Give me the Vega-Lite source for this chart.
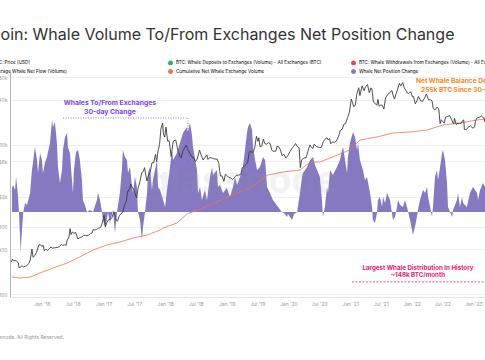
{
  "$schema": "https://vega.github.io/schema/vega-lite/v6.json",
  "width": 490,
  "height": 225,
  "autosize": {"type": "none"},
  "padding": {"left": 10, "top": 72, "right": 0, "bottom": 63},
  "background": "white",
  "config": {"font": "Inter", "view": {"stroke": null}},
  "title": {
    "text": "Bitcoin: Whale Volume To/From Exchanges Net Position Change",
    "anchor": "start", "frame": "group", "dx": -38, "offset": 17,
    "fontSize": 16, "fontWeight": "normal", "color": "#333333", "font": "Inter"
  },
  "datasets": {
    "price": [
      {"date":"2015-07-05","p":270},{"date":"2015-07-12","p":292},{"date":"2015-07-20","p":278},{"date":"2015-08-01","p":281},{"date":"2015-08-15","p":262},{"date":"2015-08-19","p":225},{"date":"2015-08-26","p":225},{"date":"2015-09-05","p":240},{"date":"2015-09-15","p":230},{"date":"2015-09-25","p":235},{"date":"2015-10-05","p":240},{"date":"2015-10-15","p":255},{"date":"2015-10-25","p":285},{"date":"2015-11-04","p":400},{"date":"2015-11-11","p":310},{"date":"2015-11-20","p":325},{"date":"2015-12-01","p":360},{"date":"2015-12-15","p":455},{"date":"2015-12-25","p":455},
      {"date":"2016-01-01","p":432},{"date":"2016-01-10","p":448},{"date":"2016-01-16","p":380},{"date":"2016-01-25","p":395},{"date":"2016-02-05","p":385},{"date":"2016-02-15","p":405},{"date":"2016-02-25","p":425},{"date":"2016-03-05","p":410},{"date":"2016-03-15","p":415},{"date":"2016-03-25","p":417},{"date":"2016-04-05","p":422},{"date":"2016-04-15","p":430},{"date":"2016-04-25","p":460},{"date":"2016-05-05","p":448},{"date":"2016-05-15","p":455},{"date":"2016-05-25","p":450},{"date":"2016-05-31","p":530},{"date":"2016-06-10","p":577},{"date":"2016-06-17","p":750},{"date":"2016-06-23","p":625},{"date":"2016-07-01","p":675},{"date":"2016-07-10","p":648},{"date":"2016-07-20","p":665},{"date":"2016-08-02","p":545},{"date":"2016-08-15","p":570},{"date":"2016-08-25","p":578},{"date":"2016-09-05","p":610},{"date":"2016-09-15","p":608},{"date":"2016-09-25","p":602},{"date":"2016-10-05","p":612},{"date":"2016-10-15","p":640},{"date":"2016-10-25","p":655},{"date":"2016-11-01","p":730},{"date":"2016-11-10","p":715},{"date":"2016-11-20","p":730},{"date":"2016-12-01","p":755},{"date":"2016-12-15","p":780},{"date":"2016-12-25","p":895},
      {"date":"2017-01-04","p":1130},{"date":"2017-01-12","p":790},{"date":"2017-01-20","p":895},{"date":"2017-02-01","p":990},{"date":"2017-02-10","p":995},{"date":"2017-02-20","p":1050},{"date":"2017-03-03","p":1260},{"date":"2017-03-10","p":1120},{"date":"2017-03-18","p":970},{"date":"2017-03-25","p":940},{"date":"2017-04-05","p":1130},{"date":"2017-04-15","p":1180},{"date":"2017-04-25","p":1260},{"date":"2017-05-05","p":1540},{"date":"2017-05-15","p":1720},{"date":"2017-05-25","p":2400},{"date":"2017-06-01","p":2400},{"date":"2017-06-12","p":2950},{"date":"2017-06-20","p":2700},{"date":"2017-07-01","p":2450},{"date":"2017-07-16","p":1930},{"date":"2017-07-25","p":2600},{"date":"2017-08-05","p":3200},{"date":"2017-08-15","p":4200},{"date":"2017-08-25","p":4350},{"date":"2017-09-01","p":4900},{"date":"2017-09-15","p":3250},{"date":"2017-09-25","p":3900},{"date":"2017-10-05","p":4300},{"date":"2017-10-15","p":5700},{"date":"2017-10-25","p":5700},{"date":"2017-11-05","p":7400},{"date":"2017-11-12","p":5900},{"date":"2017-11-20","p":8200},{"date":"2017-11-29","p":10000},{"date":"2017-12-07","p":16000},{"date":"2017-12-17","p":19400},{"date":"2017-12-22","p":13800},{"date":"2017-12-30","p":12600},
      {"date":"2018-01-06","p":17100},{"date":"2018-01-16","p":11100},{"date":"2018-01-25","p":11200},{"date":"2018-02-06","p":6900},{"date":"2018-02-15","p":10000},{"date":"2018-02-20","p":11200},{"date":"2018-03-05","p":11500},{"date":"2018-03-18","p":8200},{"date":"2018-03-30","p":6900},{"date":"2018-04-06","p":6600},{"date":"2018-04-15","p":8000},{"date":"2018-04-25","p":8900},{"date":"2018-05-05","p":9800},{"date":"2018-05-15","p":8600},{"date":"2018-05-29","p":7500},{"date":"2018-06-10","p":6800},{"date":"2018-06-20","p":6700},{"date":"2018-06-29","p":5900},{"date":"2018-07-10","p":6400},{"date":"2018-07-24","p":8400},{"date":"2018-08-05","p":7000},{"date":"2018-08-14","p":6200},{"date":"2018-08-25","p":6700},{"date":"2018-09-05","p":7300},{"date":"2018-09-12","p":6300},{"date":"2018-09-22","p":6700},{"date":"2018-10-05","p":6600},{"date":"2018-10-15","p":6450},{"date":"2018-10-25","p":6400},{"date":"2018-11-05","p":6400},{"date":"2018-11-15","p":5600},{"date":"2018-11-20","p":4500},{"date":"2018-11-25","p":3800},{"date":"2018-12-05","p":3800},{"date":"2018-12-15","p":3200},{"date":"2018-12-24","p":4000},
      {"date":"2019-01-05","p":3800},{"date":"2019-01-15","p":3600},{"date":"2019-01-25","p":3580},{"date":"2019-02-05","p":3400},{"date":"2019-02-15","p":3600},{"date":"2019-02-25","p":3850},{"date":"2019-03-10","p":3900},{"date":"2019-03-25","p":3950},{"date":"2019-04-03","p":4900},{"date":"2019-04-15","p":5100},{"date":"2019-04-25","p":5400},{"date":"2019-05-05","p":5750},{"date":"2019-05-15","p":8000},{"date":"2019-05-25","p":8000},{"date":"2019-06-05","p":7800},{"date":"2019-06-15","p":8800},{"date":"2019-06-26","p":12900},{"date":"2019-07-05","p":11000},{"date":"2019-07-10","p":12300},{"date":"2019-07-17","p":9400},{"date":"2019-07-27","p":9500},{"date":"2019-08-06","p":11800},{"date":"2019-08-15","p":10300},{"date":"2019-08-25","p":10100},{"date":"2019-09-05","p":10600},{"date":"2019-09-15","p":10300},{"date":"2019-09-25","p":8400},{"date":"2019-10-05","p":8100},{"date":"2019-10-20","p":8200},{"date":"2019-10-26","p":9500},{"date":"2019-11-05","p":9300},{"date":"2019-11-15","p":8500},{"date":"2019-11-25","p":7100},{"date":"2019-12-05","p":7400},{"date":"2019-12-17","p":6600},{"date":"2019-12-31","p":7200},
      {"date":"2020-01-10","p":8000},{"date":"2020-01-20","p":8700},{"date":"2020-02-01","p":9400},{"date":"2020-02-13","p":10300},{"date":"2020-02-25","p":9300},{"date":"2020-03-05","p":9100},{"date":"2020-03-12","p":4900},{"date":"2020-03-20","p":6200},{"date":"2020-04-01","p":6600},{"date":"2020-04-15","p":6650},{"date":"2020-04-30","p":8700},{"date":"2020-05-08","p":9900},{"date":"2020-05-15","p":9300},{"date":"2020-05-25","p":8800},{"date":"2020-06-02","p":10100},{"date":"2020-06-15","p":9400},{"date":"2020-06-25","p":9250},{"date":"2020-07-05","p":9100},{"date":"2020-07-15","p":9200},{"date":"2020-07-27","p":11000},{"date":"2020-08-05","p":11750},{"date":"2020-08-17","p":12300},{"date":"2020-08-25","p":11500},{"date":"2020-09-01","p":12000},{"date":"2020-09-08","p":10200},{"date":"2020-09-20","p":10900},{"date":"2020-10-01","p":10600},{"date":"2020-10-15","p":11500},{"date":"2020-10-25","p":13000},{"date":"2020-11-05","p":15600},{"date":"2020-11-15","p":16000},{"date":"2020-11-25","p":18700},{"date":"2020-12-05","p":19100},{"date":"2020-12-17","p":23000},{"date":"2020-12-27","p":26500},
      {"date":"2021-01-08","p":40500},{"date":"2021-01-15","p":36700},{"date":"2021-01-22","p":32000},{"date":"2021-02-01","p":33500},{"date":"2021-02-09","p":46500},{"date":"2021-02-21","p":57500},{"date":"2021-02-28","p":45200},{"date":"2021-03-13","p":61000},{"date":"2021-03-25","p":52500},{"date":"2021-04-01","p":58800},{"date":"2021-04-14","p":63500},{"date":"2021-04-25","p":49100},{"date":"2021-05-03","p":57000},{"date":"2021-05-10","p":56000},{"date":"2021-05-19","p":37000},{"date":"2021-05-28","p":35700},{"date":"2021-06-08","p":33500},{"date":"2021-06-15","p":40200},{"date":"2021-06-22","p":32500},{"date":"2021-07-01","p":33500},{"date":"2021-07-10","p":33800},{"date":"2021-07-20","p":29800},{"date":"2021-07-30","p":42000},{"date":"2021-08-10","p":46000},{"date":"2021-08-22","p":49200},{"date":"2021-09-06","p":52600},{"date":"2021-09-12","p":46000},{"date":"2021-09-21","p":40600},{"date":"2021-10-01","p":48200},{"date":"2021-10-10","p":55000},{"date":"2021-10-20","p":66000},{"date":"2021-10-28","p":61000},{"date":"2021-11-09","p":67500},{"date":"2021-11-18","p":57000},{"date":"2021-11-26","p":53600},{"date":"2021-12-04","p":49200},{"date":"2021-12-14","p":48400},{"date":"2021-12-27","p":50700},
      {"date":"2022-01-05","p":43500},{"date":"2022-01-12","p":43900},{"date":"2022-01-22","p":35000},{"date":"2022-02-01","p":38700},{"date":"2022-02-10","p":44000},{"date":"2022-02-24","p":38300},{"date":"2022-03-07","p":38000},{"date":"2022-03-18","p":41800},{"date":"2022-03-29","p":47400},{"date":"2022-04-11","p":39500},{"date":"2022-04-22","p":39700},{"date":"2022-05-01","p":38500},{"date":"2022-05-09","p":30200},{"date":"2022-05-20","p":29200},{"date":"2022-05-31","p":31800},{"date":"2022-06-10","p":30100},{"date":"2022-06-18","p":19000},{"date":"2022-06-25","p":21500},{"date":"2022-07-05","p":20200},{"date":"2022-07-13","p":19300},{"date":"2022-07-20","p":23200},{"date":"2022-07-30","p":23600},{"date":"2022-08-14","p":24400},{"date":"2022-08-25","p":21600},{"date":"2022-09-06","p":18800},{"date":"2022-09-12","p":22300},{"date":"2022-09-21","p":18500},{"date":"2022-10-01","p":19300},{"date":"2022-10-10","p":19100},{"date":"2022-10-21","p":19200},{"date":"2022-10-29","p":20800},{"date":"2022-11-05","p":21300},{"date":"2022-11-09","p":15900},{"date":"2022-11-21","p":15800},{"date":"2022-12-01","p":17000},{"date":"2022-12-14","p":17800},{"date":"2022-12-30","p":16550},
      {"date":"2023-01-08","p":17100},{"date":"2023-01-14","p":20900},{"date":"2023-01-25","p":23000},{"date":"2023-02-05","p":22900},{"date":"2023-02-16","p":24300},{"date":"2023-02-25","p":23200},{"date":"2023-03-05","p":22400},{"date":"2023-03-10","p":20200},{"date":"2023-03-17","p":27400}
    ],
    "cum": [
      {"date":"2015-07-09","c":0},{"date":"2015-08-25","c":-2000},{"date":"2015-10-24","c":0},{"date":"2015-12-22","c":8000},{"date":"2016-03-08","c":18000},{"date":"2016-05-30","c":28000},{"date":"2016-08-14","c":40000},{"date":"2016-10-31","c":54000},{"date":"2017-01-21","c":64000},{"date":"2017-04-08","c":70000},{"date":"2017-06-25","c":78000},{"date":"2017-09-16","c":84000},{"date":"2017-12-02","c":94000},{"date":"2017-12-20","c":98000},{"date":"2018-03-12","c":108000},{"date":"2018-05-10","c":126000},{"date":"2018-09-24","c":144000},{"date":"2019-01-20","c":162000},{"date":"2019-05-19","c":178000},{"date":"2019-09-02","c":204000},{"date":"2019-11-30","c":210000},{"date":"2020-03-10","c":214000},{"date":"2020-05-09","c":230000},{"date":"2020-07-06","c":230000},{"date":"2020-09-04","c":238000},{"date":"2020-12-31","c":254000},{"date":"2021-02-28","c":274000},{"date":"2021-06-09","c":280000},{"date":"2021-09-12","c":288000},{"date":"2021-12-22","c":290000},{"date":"2022-04-02","c":294000},{"date":"2022-07-05","c":304000},{"date":"2022-10-14","c":308000},{"date":"2023-01-23","c":314000},{"date":"2023-03-11","c":316000}
    ],
    "net": [
      {"date":"2015-07-09","v":50700},{"date":"2015-07-15","v":57100},{"date":"2015-07-27","v":46500},{"date":"2015-08-02","v":74000},{"date":"2015-08-13","v":35900},{"date":"2015-08-19","v":0},{"date":"2015-08-29","v":-84600},{"date":"2015-09-06","v":-38100},{"date":"2015-09-14","v":0},{"date":"2015-09-24","v":19000},{"date":"2015-10-06","v":14800},{"date":"2015-10-24","v":40200},{"date":"2015-11-04","v":88800},{"date":"2015-11-10","v":103600},{"date":"2015-11-22","v":137400},{"date":"2015-12-04","v":109900},{"date":"2015-12-10","v":82400},{"date":"2015-12-22","v":124700},
      {"date":"2016-01-02","v":109900},{"date":"2016-01-08","v":82400},{"date":"2016-01-20","v":103600},{"date":"2016-02-01","v":116300},{"date":"2016-02-19","v":145900},{"date":"2016-03-02","v":194500},{"date":"2016-03-08","v":179700},{"date":"2016-03-19","v":190300},{"date":"2016-03-31","v":145900},{"date":"2016-04-06","v":95100},{"date":"2016-04-18","v":61300},{"date":"2016-04-30","v":88800},{"date":"2016-05-06","v":131100},{"date":"2016-05-18","v":158600},{"date":"2016-05-30","v":167000},{"date":"2016-06-04","v":137400},{"date":"2016-06-16","v":124700},{"date":"2016-06-28","v":67600},{"date":"2016-07-04","v":40200},{"date":"2016-07-10","v":88800},{"date":"2016-07-22","v":126800},{"date":"2016-08-03","v":131100},{"date":"2016-08-14","v":109900},{"date":"2016-08-26","v":67600},{"date":"2016-09-01","v":25400},{"date":"2016-09-13","v":14800},{"date":"2016-09-25","v":0},{"date":"2016-10-13","v":4200},{"date":"2016-10-31","v":0},{"date":"2016-11-23","v":25400},{"date":"2016-11-29","v":40200},{"date":"2016-12-11","v":25400},{"date":"2016-12-23","v":0},{"date":"2016-12-29","v":-16900},
      {"date":"2017-01-10","v":-31700},{"date":"2017-01-21","v":-16900},{"date":"2017-01-27","v":0},{"date":"2017-02-08","v":-23300},{"date":"2017-02-26","v":4200},{"date":"2017-03-10","v":-44400},{"date":"2017-03-22","v":0},{"date":"2017-04-08","v":40200},{"date":"2017-04-20","v":88800},{"date":"2017-04-26","v":131100},{"date":"2017-05-08","v":116300},{"date":"2017-05-20","v":109900},{"date":"2017-05-26","v":82400},{"date":"2017-06-07","v":95100},{"date":"2017-06-19","v":52900},{"date":"2017-06-25","v":40200},{"date":"2017-07-06","v":74000},{"date":"2017-07-18","v":52900},{"date":"2017-07-24","v":0},{"date":"2017-08-05","v":-16900},{"date":"2017-08-17","v":-59200},{"date":"2017-08-23","v":-31700},{"date":"2017-09-04","v":0},{"date":"2017-09-16","v":40200},{"date":"2017-09-22","v":82400},{"date":"2017-10-03","v":95100},{"date":"2017-10-15","v":46500},{"date":"2017-10-21","v":67600},{"date":"2017-11-02","v":88800},{"date":"2017-11-14","v":109900},{"date":"2017-11-20","v":52900},{"date":"2017-12-02","v":46500},{"date":"2017-12-20","v":25400},
      {"date":"2018-01-01","v":10600},{"date":"2018-01-12","v":46500},{"date":"2018-01-30","v":95100},{"date":"2018-02-11","v":131100},{"date":"2018-02-17","v":109900},{"date":"2018-03-12","v":124700},{"date":"2018-03-30","v":145900},{"date":"2018-04-17","v":167000},{"date":"2018-05-10","v":179700},{"date":"2018-05-16","v":169100},{"date":"2018-05-28","v":188100},{"date":"2018-06-09","v":162800},{"date":"2018-06-15","v":137400},{"date":"2018-07-09","v":88800},{"date":"2018-07-15","v":40200},{"date":"2018-07-27","v":52900},{"date":"2018-08-07","v":25400},{"date":"2018-08-25","v":46500},{"date":"2018-09-06","v":25400},{"date":"2018-09-24","v":74000},{"date":"2018-10-06","v":95100},{"date":"2018-10-12","v":78200},{"date":"2018-11-04","v":88800},{"date":"2018-11-10","v":52900},{"date":"2018-11-22","v":57100},{"date":"2018-12-10","v":40200},
      {"date":"2019-01-02","v":50700},{"date":"2019-01-20","v":31700},{"date":"2019-02-07","v":52900},{"date":"2019-02-19","v":74000},{"date":"2019-03-03","v":57100},{"date":"2019-03-21","v":74000},{"date":"2019-04-07","v":95100},{"date":"2019-04-19","v":131100},{"date":"2019-05-01","v":167000},{"date":"2019-05-07","v":179700},{"date":"2019-05-19","v":188100},{"date":"2019-05-31","v":173300},{"date":"2019-06-06","v":137400},{"date":"2019-06-18","v":109900},{"date":"2019-06-30","v":88800},{"date":"2019-07-17","v":95100},{"date":"2019-08-04","v":116300},{"date":"2019-08-16","v":109900},{"date":"2019-08-28","v":52900},{"date":"2019-09-14","v":40200},{"date":"2019-10-02","v":25400},{"date":"2019-11-01","v":10600},{"date":"2019-11-24","v":0},{"date":"2019-12-12","v":-4200},{"date":"2019-12-24","v":-10600},{"date":"2019-12-30","v":-4200},
      {"date":"2020-01-11","v":-10600},{"date":"2020-01-23","v":-16900},{"date":"2020-02-04","v":-4200},{"date":"2020-02-22","v":0},{"date":"2020-03-10","v":40200},{"date":"2020-03-22","v":74000},{"date":"2020-03-28","v":82400},{"date":"2020-04-21","v":95100},{"date":"2020-05-09","v":109900},{"date":"2020-05-26","v":116300},{"date":"2020-06-07","v":99400},{"date":"2020-07-06","v":74000},{"date":"2020-07-18","v":25400},{"date":"2020-07-24","v":-10600},{"date":"2020-08-05","v":10600},{"date":"2020-08-17","v":52900},{"date":"2020-08-23","v":40200},{"date":"2020-09-04","v":88800},{"date":"2020-09-21","v":78200},{"date":"2020-10-15","v":95100},{"date":"2020-11-02","v":109900},{"date":"2020-11-14","v":131100},{"date":"2020-11-20","v":137400},{"date":"2020-12-02","v":109900},{"date":"2020-12-14","v":82400},{"date":"2020-12-19","v":116300},{"date":"2020-12-31","v":145900},
      {"date":"2021-01-18","v":169100},{"date":"2021-01-30","v":158600},{"date":"2021-02-11","v":131100},{"date":"2021-02-17","v":145900},{"date":"2021-02-28","v":109900},{"date":"2021-03-18","v":88800},{"date":"2021-03-30","v":67600},{"date":"2021-04-11","v":74000},{"date":"2021-04-29","v":40200},{"date":"2021-05-11","v":10600},{"date":"2021-05-16","v":-16900},{"date":"2021-05-28","v":-23300},{"date":"2021-06-09","v":-2100},{"date":"2021-06-15","v":25400},{"date":"2021-06-27","v":31700},{"date":"2021-07-09","v":10600},{"date":"2021-07-15","v":31700},{"date":"2021-07-27","v":19000},{"date":"2021-08-08","v":40200},{"date":"2021-08-25","v":25400},{"date":"2021-09-06","v":-2100},{"date":"2021-09-12","v":-16900},{"date":"2021-09-24","v":-10600},{"date":"2021-10-06","v":10600},{"date":"2021-10-12","v":25400},{"date":"2021-10-24","v":14800},{"date":"2021-11-10","v":10600},{"date":"2021-11-22","v":25400},{"date":"2021-12-04","v":10600},{"date":"2021-12-22","v":-16900},
      {"date":"2022-01-03","v":-38100},{"date":"2022-01-08","v":-48600},{"date":"2022-01-20","v":-31700},{"date":"2022-02-01","v":-10600},{"date":"2022-02-07","v":4200},{"date":"2022-02-19","v":25400},{"date":"2022-03-09","v":46500},{"date":"2022-03-21","v":40200},{"date":"2022-04-02","v":52900},{"date":"2022-04-08","v":31700},{"date":"2022-04-20","v":10600},{"date":"2022-05-01","v":-10600},{"date":"2022-05-07","v":10600},{"date":"2022-05-19","v":74000},{"date":"2022-05-31","v":88800},{"date":"2022-06-06","v":67600},{"date":"2022-06-18","v":95100},{"date":"2022-06-30","v":124700},{"date":"2022-07-05","v":131100},{"date":"2022-07-17","v":109900},{"date":"2022-07-29","v":61300},{"date":"2022-08-04","v":10600},{"date":"2022-08-16","v":0},{"date":"2022-08-28","v":-10600},{"date":"2022-09-03","v":4200},{"date":"2022-09-26","v":25400},{"date":"2022-10-02","v":40200},{"date":"2022-10-14","v":10600},{"date":"2022-10-26","v":31700},{"date":"2022-11-01","v":19000},{"date":"2022-11-24","v":10600},{"date":"2022-12-12","v":40200},{"date":"2022-12-30","v":52900},
      {"date":"2023-01-23","v":40200},{"date":"2023-01-29","v":25400},{"date":"2023-02-10","v":46500},{"date":"2023-02-27","v":61300},{"date":"2023-03-11","v":52900},{"date":"2023-03-20","v":50000}
    ],
    "notes": [
      {"date":"2017-02-08","v":230400,"text":"Whales To/From Exchanges","group":"whales"},
      {"date":"2017-02-08","v":211400,"text":"30-day Change","group":"whales"},
      {"date":"2022-01-26","v":276900,"text":"Net Whale Balance Delta","group":"balance"},
      {"date":"2022-02-25","v":257900,"text":"255k BTC Since 30-Day Low","group":"balance"},
      {"date":"2022-02-07","v":-118400,"text":"Largest Whale Distribution In History","group":"distribution"},
      {"date":"2022-02-07","v":-133200,"text":"~148k BTC/month","group":"distribution"},
      {"date":"2019-04-01","v":63400,"text":"glassnode","group":"watermark"}
    ],
    "guides": [
      {"date":"2016-05-06","date2":"2018-05-16","v":198700,"v2":198700,"group":"whales"},
      {"date":"2018-05-16","date2":"2018-05-16","v":198700,"v2":99400,"group":"whales"},
      {"date":"2021-01-12","date2":"2023-06-08","v":-148000,"v2":-148000,"group":"distribution"}
    ]
  },
  "encoding": {
    "x": {
      "field": "date", "type": "temporal",
      "scale": {"type": "utc", "domain": [{"year":2015,"month":6,"date":27,"utc":true},{"year":2023,"month":6,"date":8,"utc":true}]},
      "axis": {
        "values": [
          {"year":2016,"month":1,"date":1,"utc":true},{"year":2016,"month":7,"date":1,"utc":true},
          {"year":2017,"month":1,"date":1,"utc":true},{"year":2017,"month":7,"date":1,"utc":true},
          {"year":2018,"month":1,"date":1,"utc":true},{"year":2018,"month":7,"date":1,"utc":true},
          {"year":2019,"month":1,"date":1,"utc":true},{"year":2019,"month":7,"date":1,"utc":true},
          {"year":2020,"month":1,"date":1,"utc":true},{"year":2020,"month":7,"date":1,"utc":true},
          {"year":2021,"month":1,"date":1,"utc":true},{"year":2021,"month":7,"date":1,"utc":true},
          {"year":2022,"month":1,"date":1,"utc":true},{"year":2022,"month":7,"date":1,"utc":true},
          {"year":2023,"month":1,"date":1,"utc":true}
        ],
        "format": "%b '%y", "labelFontSize": 5, "labelColor": "#9a9a9a", "labelFont": "Inter",
        "tickSize": 0, "labelPadding": 4, "domainColor": "#e4e4e4", "grid": false,
        "title": "© 2023 Glassnode. All Rights Reserved.",
        "titleFontSize": 5, "titleFontWeight": "normal", "titleColor": "#9a9a9a", "titleFont": "Inter",
        "titleAlign": "left", "titleAnchor": "start", "titleX": -41, "titleY": 39, "titleBaseline": "middle"
      }
    }
  },
  "layer": [
    {
      "data": {"name": "net"},
      "mark": {"type": "area", "opacity": 1, "interpolate": "linear"},
      "encoding": {
        "y": {"field": "v", "type": "quantitative", "scale": {"domain": [-180000, 296000], "nice": false, "zero": false}, "axis": null},
        "y2": {"datum": 0},
        "color": {
          "datum": "Whale Net Position Change",
          "scale": {
            "domain": ["BTC: Price [USD]", "BTC: Whale Deposits to Exchanges (Volume) - All Exchanges (BTC)", "BTC: Whale Withdrawals from Exchanges (Volume) - All Exchanges (BTC)", "Average Whale Net Flow (Volume)", "Cumulative Net Whale Exchange Volume", "Whale Net Position Change"],
            "range": ["#3c3c3c", "#26b36f", "#e8454f", "#c8c8c8", "#f2704f", "#8679c1"]
          },
          "legend": {
            "orient": "none", "legendX": -25, "legendY": -12,
            "direction": "horizontal", "columns": 3, "gridAlign": "all",
            "columnPadding": 12, "rowPadding": -2,
            "symbolSize": 12, "symbolType": "circle",
            "labelFont": "Inter", "labelFontSize": 4.6, "labelLimit": 160, "labelOffset": 3,
            "title": null,
            "encode": {
              "labels": {"update": {
                "fill": {"signal": "indexof(['BTC: Price [USD]','Cumulative Net Whale Exchange Volume','Whale Net Position Change'], datum.label) >= 0 ? '#3a3a3a' : '#cdcdcd'"},
                "fontWeight": {"signal": "indexof(['BTC: Price [USD]','Cumulative Net Whale Exchange Volume','Whale Net Position Change'], datum.label) >= 0 ? 600 : 400"}
              }},
              "symbols": {"update": {
                "shape": {"signal": "datum.label === 'Whale Net Position Change' ? 'square' : 'circle'"},
                "fill": {"signal": "scale('color', datum.value)"},
                "stroke": {"value": "transparent"},
                "opacity": {"value": 1}
              }}
            }
          }
        }
      }
    },
    {
      "data": {"name": "cum"},
      "mark": {"type": "line", "strokeWidth": 0.8},
      "encoding": {
        "y": {"field": "c", "type": "quantitative", "scale": {"domain": [-40000, 410000], "nice": false, "zero": false}, "axis": null},
        "color": {"datum": "Cumulative Net Whale Exchange Volume"}
      }
    },
    {
      "data": {"name": "price"},
      "mark": {"type": "line", "strokeWidth": 0.9},
      "encoding": {
        "y": {
          "field": "p", "type": "quantitative",
          "scale": {"type": "log", "domain": [91.2, 93400], "nice": false},
          "axis": {
            "values": [100, 400, 800, 2000, 6000, 10000, 40000, 80000],
            "labelExpr": "datum.value >= 1000 ? '$' + (datum.value / 1000) + 'k' : '$' + datum.value",
            "labelFontSize": 5, "labelColor": "#9a9a9a", "labelFont": "Inter",
            "tickSize": 0, "labelPadding": 3, "domainColor": "#b8b8b8",
            "grid": true, "gridColor": "#efefef", "title": null
          }
        },
        "color": {"datum": "BTC: Price [USD]"}
      }
    },
    {
      "layer": [
        {
          "data": {"name": "guides"},
          "transform": [{"filter": "datum.group === 'whales'"}],
          "mark": {"type": "rule", "color": "#8a55f0", "strokeWidth": 0.8, "strokeDash": [1, 1.5]},
          "encoding": {
            "x2": {"field": "date2"},
            "y": {"field": "v", "type": "quantitative", "scale": {"domain": [-180000, 296000], "nice": false, "zero": false}, "axis": null},
            "y2": {"field": "v2"}
          }
        },
        {
          "data": {"name": "guides"},
          "transform": [{"filter": "datum.group === 'distribution'"}],
          "mark": {"type": "rule", "color": "#e5246f", "strokeWidth": 0.8, "strokeDash": [2, 1.5]},
          "encoding": {
            "x2": {"field": "date2"},
            "y": {"field": "v", "type": "quantitative"},
            "y2": {"field": "v2"}
          }
        },
        {
          "data": {"name": "notes"},
          "transform": [{"filter": "datum.group === 'whales'"}],
          "mark": {"type": "text", "color": "#7b3ff2", "fontSize": 6.8, "fontWeight": "bold", "font": "Inter", "align": "center", "baseline": "middle"},
          "encoding": {"y": {"field": "v", "type": "quantitative"}, "text": {"field": "text"}}
        },
        {
          "data": {"name": "notes"},
          "transform": [{"filter": "datum.group === 'distribution'"}],
          "mark": {"type": "text", "color": "#e5196f", "fontSize": 6.2, "fontWeight": "bold", "font": "Inter", "align": "center", "baseline": "middle"},
          "encoding": {"y": {"field": "v", "type": "quantitative"}, "text": {"field": "text"}}
        },
        {
          "data": {"name": "notes"},
          "transform": [{"filter": "datum.group === 'balance'"}],
          "mark": {"type": "text", "color": "#f7881f", "fontSize": 6.6, "fontWeight": "bold", "font": "Inter", "align": "left", "baseline": "middle"},
          "encoding": {"y": {"field": "v", "type": "quantitative"}, "text": {"field": "text"}}
        },
        {
          "data": {"name": "notes"},
          "transform": [{"filter": "datum.group === 'watermark'"}],
          "mark": {"type": "text", "color": "#9a9a9a", "opacity": 0.12, "fontSize": 38, "fontWeight": "bold", "font": "Inter", "align": "center", "baseline": "middle"},
          "encoding": {"y": {"field": "v", "type": "quantitative"}, "text": {"field": "text"}}
        }
      ]
    }
  ],
  "resolve": {"scale": {"y": "independent"}}
}
